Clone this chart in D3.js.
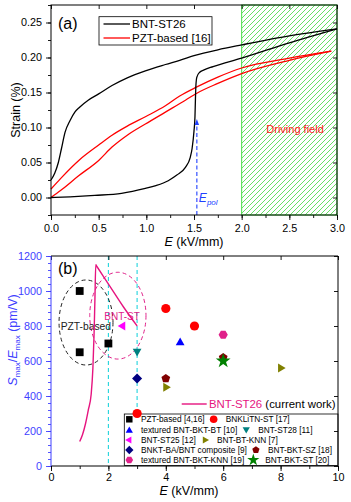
<!DOCTYPE html>
<html>
<head>
<meta charset="utf-8">
<script src="https://cdn.jsdelivr.net/npm/d3@7"></script>
<style>
body { margin: 0; background: #fff; }
text { font-family: "Liberation Sans", Arial, sans-serif; }
</style>
</head>
<body>
<div class="content"></div>
<script>
// ---- panel (a) data: [E kV/mm, strain %] ----
var bntUp = [[0,0.025],[0.04,0.035],[0.077,0.05],[0.11,0.07],[0.147,0.093],[0.2,0.11],[0.25,0.122],[0.3,0.129],
  [0.39,0.139],[0.5,0.148],[0.64,0.16],[0.8,0.171],[0.99,0.181],[1.2,0.19],[1.35,0.196],[1.51,0.203],
  [1.75,0.211],[2.0,0.218],[2.5,0.231],[3.0,0.241]];
var bntDown = [[0,0],[0.2,0.001],[0.46,0.003],[0.74,0.006],[0.99,0.013],[1.1,0.017],[1.23,0.024],[1.32,0.032],
  [1.41,0.043],[1.46,0.057],[1.48,0.07],[1.5,0.095],[1.51,0.115],[1.515,0.14],[1.52,0.16],[1.53,0.172],
  [1.56,0.179],[1.6,0.182],[1.7,0.187],[2.0,0.199],[2.5,0.221],[3.0,0.241]];
var pztUp = [[0,0.012],[0.1,0.027],[0.3,0.054],[0.5,0.075],[0.64,0.089],[0.8,0.102],[1.0,0.116],[1.2,0.131],
  [1.35,0.145],[1.53,0.158],[1.75,0.172],[2.0,0.185],[2.5,0.199],[2.94,0.209]];
var pztDown = [[0,0],[0.1,0.01],[0.29,0.031],[0.5,0.053],[0.64,0.072],[0.8,0.089],[0.99,0.105],[1.2,0.122],
  [1.41,0.139],[1.53,0.149],[1.75,0.163],[2.0,0.177],[2.5,0.196],[2.94,0.209]];
var ePol = 1.53, ePolTop = 0.112;
var drivingField = [2.0, 3.0];
var xTicksA = [0, 0.5, 1.0, 1.5, 2.0, 2.5, 3.0];
var yTicksA = [0, 0.05, 0.10, 0.15, 0.20, 0.25];

// ---- panel (b) data ----
var currentWork = [[1.0,140],[1.1,180],[1.2,240],[1.3,320],[1.4,410],[1.46,560],[1.5,750],[1.53,950],
  [1.56,1150],[1.6,1140],[2.06,1025],[2.52,910],[3.0,800]];
var refNames = ['PZT-based [4,16]', 'BNKLiTN-ST  [17]', 'textured BNT-BKT-BT [10]', 'BNT-ST28 [11]',
  'BNT-ST25 [12]', 'BNT-BT-KNN [7]', 'BNKT-BA/BNT composite [9]', 'BNT-BKT-SZ [18]',
  'textured BNT-BKT-KNN [19]', 'BNT-BKT-ST [20]'];
var refE = [[1,1,2],[4,5,3],[4.5],[3],[2.5],[4,8],[3],[4,6],[6],[6]];
var refS = [[1000,650,700],[900,800,300],[710],[650],[800],[450,560],[500],[500,620],[750],[600]];
var refShape = ['square','circle','up','down','left','right','diamond','pentagon','hexagon','star'];
var refColor = ['#000000','#ff0000','#0000ff','#008080','#ff00ff','#808000','#000080','#800000','#e0218a','#008000'];
var xTicksB = [0, 2, 4, 6, 8, 10];
var yTicksB = [0, 200, 400, 600, 800, 1000, 1200];

var svg = d3.select('.content').append('svg')
  .attr('width', 351).attr('height', 502);

var defs = svg.append('defs');
var hatch = defs.append('pattern')
  .attr('id', 'hatch')
  .attr('patternUnits', 'userSpaceOnUse')
  .attr('width', 5).attr('height', 5);
hatch.append('path')
  .attr('d', 'M-1,1 l2,-2 M0,5 l5,-5 M4,6 l2,-2')
  .attr('stroke', '#55dd55').attr('stroke-width', 0.9);

function shapePath(type, r) {
  var pts = [], i, a;
  if (type == 'circle') return d3.symbol().type(d3.symbolCircle).size(Math.PI * r * r)();
  if (type == 'star') return d3.symbol().type(d3.symbolStar).size(r * r * 3.2)();
  if (type == 'square') pts = [[-r*0.85,-r*0.85],[r*0.85,-r*0.85],[r*0.85,r*0.85],[-r*0.85,r*0.85]];
  if (type == 'diamond') pts = [[0,-r*1.1],[r*1.1,0],[0,r*1.1],[-r*1.1,0]];
  var tri = {up: -90, down: 90, left: 180, right: 0};
  if (type in tri) {
    for (i = 0; i < 3; i++) {
      a = (tri[type] + i * 120) * Math.PI / 180;
      pts.push([r * 1.1 * Math.cos(a), r * 1.1 * Math.sin(a) + (type == 'up' ? r*0.2 : type == 'down' ? -r*0.2 : 0)]);
    }
  }
  if (type == 'pentagon') for (i = 0; i < 5; i++) { a = (-90 + i * 72) * Math.PI / 180; pts.push([r*Math.cos(a), r*Math.sin(a)]); }
  if (type == 'hexagon') for (i = 0; i < 6; i++) { a = (i * 60) * Math.PI / 180; pts.push([r*Math.cos(a), r*Math.sin(a)]); }
  return 'M' + pts.map(function(p) { return p[0].toFixed(2) + ',' + p[1].toFixed(2); }).join('L') + 'Z';
}

function styleAxis(g, color, fs) {
  g.select('.domain').remove();
  g.selectAll('line').attr('stroke', color).attr('stroke-width', 0.9);
  g.selectAll('text').attr('fill', color).style('font-size', fs + 'px')
    .style('font-family', '"Liberation Sans", Arial, sans-serif');
}

function range(a, b, s) { var out = []; for (var v = a; v <= b + 1e-9; v += s) out.push(+v.toFixed(4)); return out; }

// ================= panel (a) =================
var xa = d3.scaleLinear().domain([0, 3]).range([51, 337]);
var ya = d3.scaleLinear().domain([-0.025, 0.275]).range([215, 5]);

svg.append('rect')
  .attr('x', xa(drivingField[0])).attr('y', ya(0.275))
  .attr('width', xa(drivingField[1]) - xa(drivingField[0])).attr('height', ya(-0.025) - ya(0.275))
  .attr('fill', 'url(#hatch)').attr('stroke', '#44dd44').attr('stroke-width', 1);

svg.append('text')
  .attr('x', xa(2.56)).attr('y', 133)
  .attr('text-anchor', 'middle').attr('fill', '#ff2020')
  .style('font-size', '11px').text('Driving field');

var lineA = d3.line()
  .x(function(d) { return xa(d[0]); })
  .y(function(d) { return ya(d[1]); })
  .curve(d3.curveMonotoneX);

[[pztUp, '#ff0000'], [pztDown, '#ff0000'], [bntUp, '#000000'], [bntDown, '#000000']].forEach(function(s) {
  svg.append('path').datum(s[0]).attr('d', lineA)
    .attr('fill', 'none').attr('stroke', s[1]).attr('stroke-width', 1.3);
});

// E_pol marker
svg.append('line')
  .attr('x1', xa(ePol)).attr('x2', xa(ePol))
  .attr('y1', 215).attr('y2', ya(ePolTop) + 4)
  .attr('stroke', '#2040ff').attr('stroke-width', 1.1).attr('stroke-dasharray', '4,2.5');
svg.append('path')
  .attr('d', 'M' + xa(ePol) + ',' + ya(ePolTop) + 'l-2.2,6h4.4z')
  .attr('fill', '#2040ff');
var epl = svg.append('text').attr('x', xa(ePol) + 2).attr('y', 202).attr('fill', '#2040ff');
epl.append('tspan').style('font-size', '12px').style('font-style', 'italic').text('E');
epl.append('tspan').attr('dy', 3).style('font-size', '8px').style('font-style', 'italic').text('pol');

// axes (a)
var gxa = svg.append('g').attr('transform', 'translate(0,215)')
  .call(d3.axisBottom(xa).tickValues(range(0, 3, 0.25)).tickSize(3).tickFormat(''));
styleAxis(gxa, '#000', 10.8);
gxa = svg.append('g').attr('transform', 'translate(0,215)')
  .call(d3.axisBottom(xa).tickValues(xTicksA).tickSize(5).tickPadding(4).tickFormat(d3.format('.1f')));
styleAxis(gxa, '#000', 10.8);
var gya = svg.append('g').attr('transform', 'translate(51,0)')
  .call(d3.axisLeft(ya).tickValues(range(-0.025, 0.275, 0.025)).tickSize(3).tickFormat(''));
styleAxis(gya, '#000', 10.8);
gya = svg.append('g').attr('transform', 'translate(51,0)')
  .call(d3.axisLeft(ya).tickValues(yTicksA).tickSize(5).tickPadding(4).tickFormat(d3.format('.2f')));
styleAxis(gya, '#000', 10.8);
var gta = svg.append('g').attr('transform', 'translate(0,5)')
  .call(d3.axisTop(xa).tickValues(xTicksA).tickSize(-4).tickFormat(''));
styleAxis(gta, '#000', 10.8);
var gra = svg.append('g').attr('transform', 'translate(337,0)')
  .call(d3.axisRight(ya).tickValues(yTicksA).tickSize(-4).tickFormat(''));
styleAxis(gra, '#000', 10.8);
svg.append('rect').attr('x', 51).attr('y', 5).attr('width', 286).attr('height', 210)
  .attr('fill', 'none').attr('stroke', '#000').attr('stroke-width', 1);

svg.append('text').attr('transform', 'translate(20,110) rotate(-90)')
  .attr('text-anchor', 'middle').style('font-size', '12.5px').text('Strain (%)');
var xta = svg.append('text').attr('x', 194).attr('y', 246).attr('text-anchor', 'middle').style('font-size', '12.5px');
xta.append('tspan').style('font-style', 'italic').text('E');
xta.append('tspan').text(' (kV/mm)');
svg.append('text').attr('x', 58).attr('y', 29).style('font-size', '16px').text('(a)');

// legend (a)
var legA = svg.append('g');
legA.append('rect').attr('x', 99).attr('y', 16.7).attr('width', 113).attr('height', 28.3)
  .attr('fill', '#fff').attr('stroke', '#000').attr('stroke-width', 0.8);
[['BNT-ST26', '#000000', 24], ['PZT-based [16]', '#ff0000', 38]].forEach(function(l) {
  legA.append('line').attr('x1', 103.5).attr('x2', 130).attr('y1', l[2]).attr('y2', l[2])
    .attr('stroke', l[1]).attr('stroke-width', 1.3);
  legA.append('text').attr('x', 132).attr('y', l[2] + 4).style('font-size', '11.5px').text(l[0]);
});

// ================= panel (b) =================
var xb = d3.scaleLinear().domain([0, 10]).range([51, 338]);
var yb = d3.scaleLinear().domain([0, 1200]).range([466, 256]);

[2, 3].forEach(function(v) {
  svg.append('line').attr('x1', xb(v)).attr('x2', xb(v)).attr('y1', 256).attr('y2', 466)
    .attr('stroke', '#22d4dd').attr('stroke-width', 1.1).attr('stroke-dasharray', '4,3');
});

// guide ellipses
svg.append('ellipse').attr('cx', xb(1.22)).attr('cy', yb(820))
  .attr('rx', xb(1.22) - xb(0.28)).attr('ry', yb(577) - yb(820))
  .attr('fill', 'none').attr('stroke', '#222').attr('stroke-width', 1).attr('stroke-dasharray', '4,3');
svg.append('ellipse').attr('cx', xb(2.33)).attr('cy', yb(859))
  .attr('rx', xb(2.33) - xb(1.35)).attr('ry', yb(611) - yb(859))
  .attr('fill', 'none').attr('stroke', '#e0218a').attr('stroke-width', 1).attr('stroke-dasharray', '4,3');
svg.append('text').attr('x', 60.7).attr('y', 330).style('font-size', '10.3px').attr('fill', '#222').text('PZT-based');
svg.append('text').attr('x', 104.3).attr('y', 320).style('font-size', '10px').attr('fill', '#e0218a').text('BNT-ST');

var lineB = d3.line()
  .x(function(d) { return xb(d[0]); })
  .y(function(d) { return yb(d[1]); })
  .curve(d3.curveMonotoneX);
svg.append('path').datum(currentWork).attr('d', lineB)
  .attr('fill', 'none').attr('stroke', '#e6147f').attr('stroke-width', 1.4);

// legend (b)
var legB = svg.append('g');
legB.append('rect').attr('x', 124.3).attr('y', 414).attr('width', 213.7).attr('height', 51.5)
  .attr('fill', '#fff').attr('stroke', '#000').attr('stroke-width', 0.8);
var rowY = [419.3, 430, 440, 450, 460];
for (var row = 0; row < 5; row++) {
  var i1 = row * 2, i2 = row * 2 + 1;
  legB.append('path').attr('d', shapePath(refShape[i1], 3.8))
    .attr('transform', 'translate(129.3,' + rowY[row] + ')').attr('fill', refColor[i1]);
  var t1 = legB.append('text').attr('x', 141).attr('y', rowY[row] + 3)
    .style('font-size', '8.3px').text(refNames[i1]);
  var sx = 141 + t1.node().getComputedTextLength() + 9;
  legB.append('path').attr('d', shapePath(refShape[i2], 3.8))
    .attr('transform', 'translate(' + sx + ',' + rowY[row] + ')').attr('fill', refColor[i2]);
  legB.append('text').attr('x', sx + 12).attr('y', rowY[row] + 3)
    .style('font-size', '8.3px').text(refNames[i2]);
}

// reference points
refE.forEach(function(es, k) {
  svg.append('g').selectAll('path').data(es).enter().append('path')
    .attr('d', shapePath(refShape[k], 4.6))
    .attr('transform', function(e, j) { return 'translate(' + xb(e) + ',' + yb(refS[k][j]) + ')'; })
    .attr('fill', refColor[k]);
});

// current work legend
svg.append('line').attr('x1', 181.7).attr('x2', 206.7).attr('y1', 404).attr('y2', 404)
  .attr('stroke', '#e6147f').attr('stroke-width', 1.4);
var cw = svg.append('text').attr('x', 209).attr('y', 408).style('font-size', '11.4px');
cw.append('tspan').attr('fill', '#e6147f').text('BNT-ST26');
cw.append('tspan').attr('fill', '#000').text(' (current work)');

// axes (b)
var gxb = svg.append('g').attr('transform', 'translate(0,466)')
  .call(d3.axisBottom(xb).tickValues(range(0, 10, 1)).tickSize(3).tickFormat(''));
styleAxis(gxb, '#000', 10.8);
gxb = svg.append('g').attr('transform', 'translate(0,466)')
  .call(d3.axisBottom(xb).tickValues(xTicksB).tickSize(5).tickPadding(2).tickFormat(d3.format('d')));
styleAxis(gxb, '#000', 10.8);
var gyb = svg.append('g').attr('transform', 'translate(51,0)')
  .call(d3.axisLeft(yb).tickValues(range(0, 1200, 40)).tickSize(3).tickFormat(''));
styleAxis(gyb, '#4040ff', 10.8);
gyb = svg.append('g').attr('transform', 'translate(51,0)')
  .call(d3.axisLeft(yb).tickValues(yTicksB).tickSize(5).tickPadding(4).tickFormat(d3.format('d')));
styleAxis(gyb, '#4040ff', 10.8);
var grb = svg.append('g').attr('transform', 'translate(338,0)')
  .call(d3.axisRight(yb).tickValues(yTicksB).tickSize(-4).tickFormat(''));
styleAxis(grb, '#000', 10.8);
var gtb = svg.append('g').attr('transform', 'translate(0,256)')
  .call(d3.axisTop(xb).tickValues(xTicksB).tickSize(-4).tickFormat(''));
styleAxis(gtb, '#000', 10.8);
svg.append('line').attr('x1', 51).attr('x2', 338).attr('y1', 256).attr('y2', 256).attr('stroke', '#000');
svg.append('line').attr('x1', 51).attr('x2', 338).attr('y1', 466).attr('y2', 466).attr('stroke', '#000');
svg.append('line').attr('x1', 338).attr('x2', 338).attr('y1', 256).attr('y2', 466).attr('stroke', '#000');
svg.append('line').attr('x1', 51).attr('x2', 51).attr('y1', 256).attr('y2', 466).attr('stroke', '#4040ff');

var ytb = svg.append('text').attr('transform', 'translate(17,340) rotate(-90)')
  .attr('text-anchor', 'middle').attr('fill', '#4040ff').style('font-size', '12.5px');
ytb.append('tspan').style('font-style', 'italic').text('S');
ytb.append('tspan').attr('dy', 3).style('font-size', '8px').text('max');
ytb.append('tspan').attr('dy', -3).text('/');
ytb.append('tspan').style('font-style', 'italic').text('E');
ytb.append('tspan').attr('dy', 3).style('font-size', '8px').text('max');
ytb.append('tspan').attr('dy', -3).text(' (pm/V)');
var xtb = svg.append('text').attr('x', 189).attr('y', 495).attr('text-anchor', 'middle').style('font-size', '12.5px');
xtb.append('tspan').style('font-style', 'italic').text('E');
xtb.append('tspan').text(' (kV/mm)');
svg.append('text').attr('x', 58).attr('y', 274).style('font-size', '16px').text('(b)');
</script>
</body>
</html>
